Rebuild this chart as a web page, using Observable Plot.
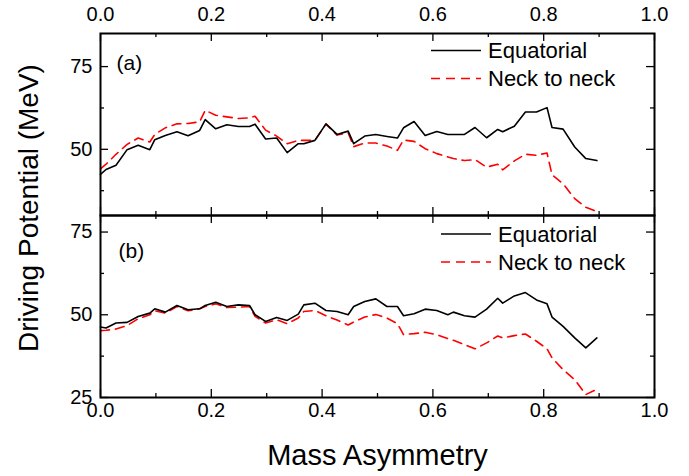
<!DOCTYPE html>
<html><head><meta charset="utf-8">
<script src="https://cdn.jsdelivr.net/npm/d3@7"></script>
<script src="https://cdn.jsdelivr.net/npm/@observablehq/plot@0.6"></script>
<style>
body{margin:0;background:#fff;}
#chart{position:relative;width:689px;height:476px;font-family:"Liberation Sans",Arial,sans-serif;}
#chart svg{position:absolute;left:0;overflow:visible;}
</style></head><body><div id="chart"></div>
<script>
// Mass asymmetry values (x)
const massAsym = [0, 0.01, 0.028, 0.048, 0.068, 0.089, 0.098, 0.117, 0.138, 0.158, 0.179, 0.189, 0.208, 0.228, 0.249, 0.269, 0.279, 0.298, 0.318, 0.337, 0.357, 0.367, 0.387, 0.407, 0.427, 0.447, 0.457, 0.477, 0.497, 0.517, 0.536, 0.547, 0.566, 0.586, 0.607, 0.627, 0.637, 0.657, 0.676, 0.697, 0.717, 0.726, 0.747, 0.767, 0.787, 0.806, 0.815, 0.835, 0.856, 0.876, 0.896];
// Panel (a)
const equatorialA = [42.4, 43.9, 45.2, 49.9, 51.2, 49.9, 52.9, 54.2, 55.3, 54.1, 55.7, 59.0, 56.2, 57.4, 56.9, 56.9, 57.6, 53.1, 53.4, 49.0, 51.7, 51.7, 52.7, 57.7, 54.5, 55.5, 51.7, 54.0, 54.5, 53.9, 53.4, 56.5, 58.4, 54.2, 55.4, 54.5, 54.5, 54.5, 56.6, 53.5, 56.0, 55.3, 57.0, 61.3, 61.3, 62.6, 56.6, 56.1, 50.7, 47.2, 46.6];
const neckA = [44.1, 45.5, 48.5, 51.5, 53.4, 52.2, 54.5, 56.5, 57.7, 57.8, 58.3, 61.8, 60.3, 59.8, 59.3, 59.5, 60.0, 55.8, 54.0, 51.7, 52.7, 52.7, 52.7, 57.6, 54.3, 55.0, 50.8, 51.9, 51.9, 51.0, 49.7, 52.8, 52.4, 50.2, 48.7, 47.7, 47.2, 46.6, 46.9, 44.6, 45.5, 43.8, 46.5, 48.5, 48.2, 48.9, 42.3, 39.6, 35.1, 32.5, 31.2];
// Panel (b)
const equatorialB = [46.3, 46.0, 47.5, 47.7, 49.5, 50.5, 51.8, 50.8, 52.8, 51.5, 51.8, 52.8, 53.8, 52.5, 53.0, 52.8, 50.0, 48.0, 49.2, 48.3, 50.2, 53.0, 53.5, 51.3, 51.0, 50.0, 52.5, 54.0, 54.8, 52.5, 52.5, 49.7, 50.3, 51.7, 51.3, 50.0, 50.8, 49.7, 49.3, 51.7, 55.0, 53.5, 55.7, 56.7, 54.5, 53.3, 49.3, 46.5, 43.0, 40.0, 43.0];
const neckB = [45.2, 45.3, 45.7, 46.7, 48.8, 50.0, 51.2, 50.5, 52.5, 51.2, 51.8, 52.5, 53.3, 52.2, 52.3, 52.5, 49.5, 47.5, 48.5, 47.3, 49.0, 51.0, 51.3, 49.7, 48.4, 46.9, 47.8, 49.3, 50.1, 49.0, 47.3, 44.0, 44.3, 44.7, 44.0, 42.8, 42.3, 41.0, 39.7, 41.5, 43.6, 43.0, 43.7, 44.2, 42.0, 39.7, 37.0, 33.4, 30.4, 25.9, 27.5];

const xMajor = [0, 0.2, 0.4, 0.6, 0.8, 1.0];
const xMinor = [0.1, 0.3, 0.5, 0.7, 0.9];
const yDomainA = [30, 85], yDomainB = [25, 80];
const yMajorA = [50, 75], yMinorA = [37.5, 62.5];
const yMajorB = [25, 50, 75], yMinorB = [37.5, 62.5];
const seriesNames = ["Equatorial", "Neck to neck"];
const xTitle = "Mass Asymmetry";
const yTitle = "Driving Potential (MeV)";

const FONT = "Liberation Sans, Arial, Helvetica, sans-serif";
const W = 689, mL = 100, mR = 35, frameW = W - mL - mR, frameH = 182;
const RED = "#ff0000", DASH = "9,6";

function panel({eq, neck, yDomain, yMajor, yMinor, tag, tagDx, tagDy, top}) {
  const rows = massAsym.map((x, i) => ({x, eq: eq[i], neck: neck[i]}));
  const marks = [
    Plot.line(rows, {x: "x", y: "neck", stroke: RED, strokeWidth: 1.6, strokeDasharray: DASH}),
    Plot.line(rows, {x: "x", y: "eq", stroke: "black", strokeWidth: 1.6}),
    // inward ticks on all four sides
    Plot.tickX(xMajor, {x: d => d, insetTop: frameH - 8, stroke: "black", strokeWidth: 1.3}),
    Plot.tickX(xMajor, {x: d => d, insetBottom: frameH - 8, stroke: "black", strokeWidth: 1.3}),
    Plot.tickX(xMinor, {x: d => d, insetTop: frameH - 4, stroke: "black", strokeWidth: 1.3}),
    Plot.tickX(xMinor, {x: d => d, insetBottom: frameH - 4, stroke: "black", strokeWidth: 1.3}),
    Plot.tickY(yMajor, {y: d => d, insetRight: frameW - 8, stroke: "black", strokeWidth: 1.3}),
    Plot.tickY(yMajor, {y: d => d, insetLeft: frameW - 8, stroke: "black", strokeWidth: 1.3}),
    Plot.tickY(yMinor, {y: d => d, insetRight: frameW - 4, stroke: "black", strokeWidth: 1.3}),
    Plot.tickY(yMinor, {y: d => d, insetLeft: frameW - 4, stroke: "black", strokeWidth: 1.3}),
    Plot.frame({stroke: "black", strokeWidth: 2}),
    Plot.axisY(yMajor, {anchor: "left", tickSize: 0, tickPadding: 8, fontSize: 20, label: null}),
    Plot.axisX(xMajor, {anchor: top ? "top" : "bottom", tickSize: 0, tickPadding: top ? 13 : 5,
      fontSize: 20, label: null, tickFormat: d3.format(".1f")}),
    Plot.text([tag], {text: d => d, frameAnchor: "top-left", textAnchor: "start", lineAnchor: "middle",
      dx: tagDx, dy: tagDy, fontSize: 21})
  ];
  if (!top) {
    marks.push(Plot.text([xTitle], {text: d => d, frameAnchor: "bottom", lineAnchor: "middle", dy: 58, fontSize: 29}));
  }
  return Plot.plot({
    width: W, height: top ? 33 + frameH : frameH + 79,
    marginLeft: mL, marginRight: mR, marginTop: top ? 33 : 0, marginBottom: top ? 0 : 79,
    x: {domain: [0, 1]}, y: {domain: yDomain},
    style: {fontFamily: FONT, fontSize: "20px", color: "black", background: "transparent", overflow: "visible"},
    marks
  });
}

const chart = document.getElementById("chart");
const a = panel({eq: equatorialA, neck: neckA, yDomain: yDomainA, yMajor: yMajorA, yMinor: yMinorA, tag: "(a)", tagDx: 16, tagDy: 30, top: true});
a.style.top = "0px";
const b = panel({eq: equatorialB, neck: neckB, yDomain: yDomainB, yMajor: yMajorB, yMinor: yMinorB, tag: "(b)", tagDx: 18, tagDy: 36, top: false});
b.style.top = "215px";
chart.appendChild(b);
chart.appendChild(a);

// overlay: y title + legends
const ov = d3.select(chart).append("svg").attr("width", W).attr("height", 476)
  .style("top", "0px").style("pointer-events", "none").attr("font-family", FONT);
ov.append("text").attr("transform", "translate(38,208) rotate(-90)").attr("text-anchor", "middle")
  .attr("font-size", 28).text(yTitle);
function legend(x0, x1, yEq, yNeck) {
  const g = ov.append("g");
  g.append("line").attr("x1", x0).attr("x2", x1).attr("y1", yEq).attr("y2", yEq).attr("stroke", "black").attr("stroke-width", 1.6);
  g.append("line").attr("x1", x0).attr("x2", x1).attr("y1", yNeck).attr("y2", yNeck).attr("stroke", RED).attr("stroke-width", 1.6).attr("stroke-dasharray", DASH);
  g.append("text").attr("x", x1 + 7).attr("y", yEq).attr("dy", "0.35em").attr("font-size", 22).text(seriesNames[0]);
  g.append("text").attr("x", x1 + 7).attr("y", yNeck).attr("dy", "0.35em").attr("font-size", 22).text(seriesNames[1]);
}
legend(431, 481, 50.5, 78.5);
legend(441, 491, 234, 262);
</script></body></html>
